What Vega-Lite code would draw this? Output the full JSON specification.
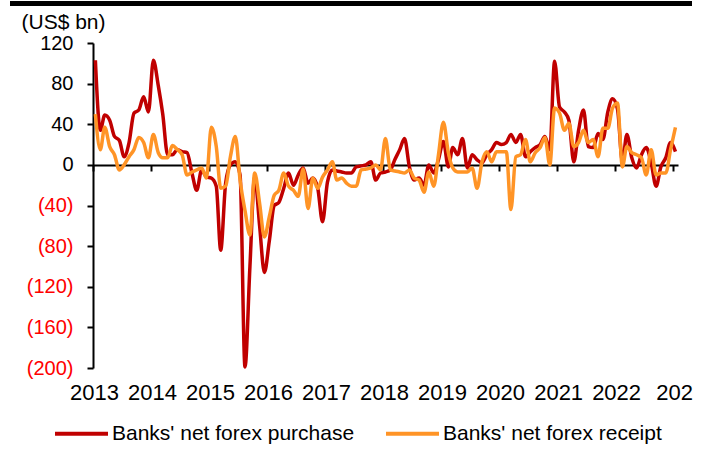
{
  "$schema": "https://vega.github.io/schema/vega-lite/v6.json",
  "padding": {"left": 7, "top": 0, "right": 0, "bottom": 0},
  "background": "white",
  "config": {"view": {"stroke": null}, "font": "Liberation Sans"},
  "spacing": 4,
  "resolve": {"scale": {"color": "independent"}, "legend": {"color": "independent"}},
  "vconcat": [
    {
      "width": 682,
      "height": 5,
      "view": {"fill": "black", "stroke": null},
      "data": {"values": [{}]},
      "mark": {"type": "point", "opacity": 0},
      "encoding": {}
    },
    {
      "spacing": 7,
      "resolve": {"scale": {"color": "independent"}, "legend": {"color": "independent"}},
      "hconcat": [
        {
          "width": 1,
          "height": 1,
          "data": {"values": [{}]},
          "mark": {"type": "point", "opacity": 0},
          "encoding": {}
        },
        {
          "width": 585,
          "height": 325,
          "data": {"values": [
            {"date": "2013-01-16", "purchase": 103, "receipt": 50},
            {"date": "2013-02-16", "purchase": 34, "receipt": 15},
            {"date": "2013-03-16", "purchase": 49, "receipt": 37},
            {"date": "2013-04-16", "purchase": 44, "receipt": 18},
            {"date": "2013-05-16", "purchase": 28, "receipt": 10},
            {"date": "2013-06-16", "purchase": 24, "receipt": -5},
            {"date": "2013-07-16", "purchase": 8, "receipt": 0},
            {"date": "2013-08-16", "purchase": 22, "receipt": 8},
            {"date": "2013-09-16", "purchase": 51, "receipt": 15},
            {"date": "2013-10-16", "purchase": 54, "receipt": 27},
            {"date": "2013-11-16", "purchase": 67, "receipt": 22},
            {"date": "2013-12-16", "purchase": 52, "receipt": 7},
            {"date": "2014-01-16", "purchase": 103, "receipt": 30},
            {"date": "2014-02-16", "purchase": 78, "receipt": 12},
            {"date": "2014-03-16", "purchase": 50, "receipt": 7},
            {"date": "2014-04-16", "purchase": 10, "receipt": 7},
            {"date": "2014-05-16", "purchase": 10, "receipt": 19},
            {"date": "2014-06-16", "purchase": 15, "receipt": 15},
            {"date": "2014-07-16", "purchase": 13, "receipt": 10},
            {"date": "2014-08-16", "purchase": 12, "receipt": -10},
            {"date": "2014-09-16", "purchase": -8, "receipt": -7},
            {"date": "2014-10-16", "purchase": -25, "receipt": -5},
            {"date": "2014-11-16", "purchase": -5, "receipt": -3},
            {"date": "2014-12-16", "purchase": -12, "receipt": -13},
            {"date": "2015-01-16", "purchase": -13, "receipt": 37},
            {"date": "2015-02-16", "purchase": -21, "receipt": 18},
            {"date": "2015-03-16", "purchase": -84, "receipt": -23},
            {"date": "2015-04-16", "purchase": -18, "receipt": -21},
            {"date": "2015-05-16", "purchase": 0, "receipt": 8},
            {"date": "2015-06-16", "purchase": 3, "receipt": 28},
            {"date": "2015-07-16", "purchase": -10, "receipt": -15},
            {"date": "2015-08-16", "purchase": -199, "receipt": -45},
            {"date": "2015-09-16", "purchase": -100, "receipt": -69},
            {"date": "2015-10-16", "purchase": -12, "receipt": -8},
            {"date": "2015-11-16", "purchase": -60, "receipt": -38},
            {"date": "2015-12-16", "purchase": -106, "receipt": -71},
            {"date": "2016-01-16", "purchase": -75, "receipt": -51},
            {"date": "2016-02-16", "purchase": -40, "receipt": -30},
            {"date": "2016-03-16", "purchase": -37, "receipt": -25},
            {"date": "2016-04-16", "purchase": -23, "receipt": -8},
            {"date": "2016-05-16", "purchase": -8, "receipt": -21},
            {"date": "2016-06-16", "purchase": -20, "receipt": -25},
            {"date": "2016-07-16", "purchase": -10, "receipt": -31},
            {"date": "2016-08-16", "purchase": -3, "receipt": -4},
            {"date": "2016-09-16", "purchase": -18, "receipt": -43},
            {"date": "2016-10-16", "purchase": -13, "receipt": -13},
            {"date": "2016-11-16", "purchase": -23, "receipt": -23},
            {"date": "2016-12-16", "purchase": -56, "receipt": -12},
            {"date": "2017-01-16", "purchase": -17, "receipt": -5},
            {"date": "2017-02-16", "purchase": -5, "receipt": 3},
            {"date": "2017-03-16", "purchase": -6, "receipt": -15},
            {"date": "2017-04-16", "purchase": -7, "receipt": -13},
            {"date": "2017-05-16", "purchase": -8, "receipt": -18},
            {"date": "2017-06-16", "purchase": -8, "receipt": -21},
            {"date": "2017-07-16", "purchase": -2, "receipt": -21},
            {"date": "2017-08-16", "purchase": -1, "receipt": -5},
            {"date": "2017-09-16", "purchase": 0, "receipt": -4},
            {"date": "2017-10-16", "purchase": 3, "receipt": -3},
            {"date": "2017-11-16", "purchase": -15, "receipt": 0},
            {"date": "2017-12-16", "purchase": -8, "receipt": -5},
            {"date": "2018-01-16", "purchase": -7, "receipt": 26},
            {"date": "2018-02-16", "purchase": -5, "receipt": -5},
            {"date": "2018-03-16", "purchase": 5, "receipt": -6},
            {"date": "2018-04-16", "purchase": 15, "receipt": -7},
            {"date": "2018-05-16", "purchase": 26, "receipt": -8},
            {"date": "2018-06-16", "purchase": -2, "receipt": -5},
            {"date": "2018-07-16", "purchase": -15, "receipt": -13},
            {"date": "2018-08-16", "purchase": -13, "receipt": -15},
            {"date": "2018-09-16", "purchase": -20, "receipt": -27},
            {"date": "2018-10-16", "purchase": 0, "receipt": -7},
            {"date": "2018-11-16", "purchase": -8, "receipt": -21},
            {"date": "2018-12-16", "purchase": 5, "receipt": 10},
            {"date": "2019-01-16", "purchase": 23, "receipt": 42},
            {"date": "2019-02-16", "purchase": -2, "receipt": 12},
            {"date": "2019-03-16", "purchase": 17, "receipt": -3},
            {"date": "2019-04-16", "purchase": 10, "receipt": -7},
            {"date": "2019-05-16", "purchase": 26, "receipt": -7},
            {"date": "2019-06-16", "purchase": -3, "receipt": -7},
            {"date": "2019-07-16", "purchase": 10, "receipt": -3},
            {"date": "2019-08-16", "purchase": 5, "receipt": -23},
            {"date": "2019-09-16", "purchase": 2, "receipt": 3},
            {"date": "2019-10-16", "purchase": 10, "receipt": 13},
            {"date": "2019-11-16", "purchase": 15, "receipt": 3},
            {"date": "2019-12-16", "purchase": 22, "receipt": 13},
            {"date": "2020-01-16", "purchase": 20, "receipt": 13},
            {"date": "2020-02-16", "purchase": 22, "receipt": 13},
            {"date": "2020-03-16", "purchase": 30, "receipt": -44},
            {"date": "2020-04-16", "purchase": 22, "receipt": 8},
            {"date": "2020-05-16", "purchase": 30, "receipt": 10},
            {"date": "2020-06-16", "purchase": 8, "receipt": 25},
            {"date": "2020-07-16", "purchase": 13, "receipt": 3},
            {"date": "2020-08-16", "purchase": 17, "receipt": 12},
            {"date": "2020-09-16", "purchase": 20, "receipt": 17},
            {"date": "2020-10-16", "purchase": 28, "receipt": 27},
            {"date": "2020-11-16", "purchase": 15, "receipt": 0},
            {"date": "2020-12-16", "purchase": 102, "receipt": 56},
            {"date": "2021-01-16", "purchase": 57, "receipt": 51},
            {"date": "2021-02-16", "purchase": 52, "receipt": 34},
            {"date": "2021-03-16", "purchase": 44, "receipt": 41},
            {"date": "2021-04-16", "purchase": 3, "receipt": 18},
            {"date": "2021-05-16", "purchase": 34, "receipt": 22},
            {"date": "2021-06-16", "purchase": 54, "receipt": 34},
            {"date": "2021-07-16", "purchase": 18, "receipt": 22},
            {"date": "2021-08-16", "purchase": 17, "receipt": 25},
            {"date": "2021-09-16", "purchase": 31, "receipt": 8},
            {"date": "2021-10-16", "purchase": 25, "receipt": 36},
            {"date": "2021-11-16", "purchase": 52, "receipt": 36},
            {"date": "2021-12-16", "purchase": 65, "receipt": 56},
            {"date": "2022-01-16", "purchase": 55, "receipt": 61},
            {"date": "2022-02-16", "purchase": 3, "receipt": -2},
            {"date": "2022-03-16", "purchase": 30, "receipt": 18},
            {"date": "2022-04-16", "purchase": 7, "receipt": 12},
            {"date": "2022-05-16", "purchase": -3, "receipt": 10},
            {"date": "2022-06-16", "purchase": 10, "receipt": 7},
            {"date": "2022-07-16", "purchase": 17, "receipt": -10},
            {"date": "2022-08-16", "purchase": 2, "receipt": 15},
            {"date": "2022-09-16", "purchase": -21, "receipt": -10},
            {"date": "2022-10-16", "purchase": -2, "receipt": -8},
            {"date": "2022-11-16", "purchase": 7, "receipt": -8},
            {"date": "2022-12-16", "purchase": 22, "receipt": 15},
            {"date": "2023-01-16", "purchase": 13, "receipt": 37}
          ]},
          "layer": [
            {
              "mark": {"type": "line", "interpolate": "monotone", "strokeWidth": 3.5, "strokeJoin": "round"},
              "encoding": {
                "x": {
                  "field": "date", "type": "temporal",
                  "scale": {"domain": ["2013-01-01", "2023-02-01"], "nice": false},
                  "axis": {
                    "title": null, "domain": false, "ticks": false, "grid": false,
                    "tickCount": {"interval": "year", "step": 1},
                    "format": "%Y",
                    "labelExpr": "datum.label == '2023' ? '202' : datum.label",
                    "labelFontSize": 22, "labelColor": "black", "labelPadding": 14, "labelOffset": 1,
                    "labelFlush": false, "labelOverlap": false, "labelBound": false
                  }
                },
                "y": {
                  "field": "purchase", "type": "quantitative",
                  "scale": {"domain": [-200, 120], "nice": false, "zero": false},
                  "axis": {
                    "title": "(US$ bn)", "titleAngle": 0, "titleAlign": "left", "titleBaseline": "alphabetic",
                    "titleX": -72, "titleY": -15, "titleFontSize": 21, "titleFontWeight": "normal", "titleColor": "black",
                    "values": [-200, -160, -120, -80, -40, 0, 40, 80, 120],
                    "labelExpr": "datum.value < 0 ? '(' + format(-datum.value, 'd') + ')' : format(datum.value, 'd')",
                    "labelColor": {"condition": {"test": "datum.value < 0", "value": "#FF0000"}, "value": "black"},
                    "labelFontSize": 20, "labelPadding": 14, "tickSize": 6, "tickWidth": 2, "tickColor": "black",
                    "domainColor": "black", "domainWidth": 2, "grid": false, "labelFlush": false, "labelOverlap": false
                  }
                },
                "color": {
                  "datum": "Banks' net forex purchase",
                  "scale": {"domain": ["Banks' net forex purchase", "Banks' net forex receipt"], "range": ["#C00000", "#FF9426"]},
                  "legend": {
                    "title": null, "orient": "none", "legendX": -40, "legendY": 362, "direction": "horizontal",
                    "symbolType": "stroke", "symbolSize": 2809, "symbolStrokeWidth": 4,
                    "labelFontSize": 21, "labelColor": "black", "labelOffset": 2, "columnPadding": 23, "labelLimit": 0
                  }
                }
              }
            },
            {
              "mark": {"type": "line", "interpolate": "monotone", "strokeWidth": 3.5, "strokeJoin": "round"},
              "encoding": {
                "x": {
                  "field": "date", "type": "temporal",
                  "axis": {
                    "orient": "top",
                    "title": null, "labels": false, "grid": false,
                    "domain": true, "domainColor": "black", "domainWidth": 2,
                    "ticks": true, "tickColor": "black", "tickWidth": 2, "tickSize": -6,
                    "tickCount": {"interval": "year", "step": 1},
                    "offset": -122
                  }
                },
                "y": {
                  "field": "receipt", "type": "quantitative",
                  "axis": {
                    "title": "(US$ bn)", "titleAngle": 0, "titleAlign": "left", "titleBaseline": "alphabetic",
                    "titleX": -72, "titleY": -15, "titleFontSize": 21, "titleFontWeight": "normal", "titleColor": "black",
                    "values": [-200, -160, -120, -80, -40, 0, 40, 80, 120],
                    "labelExpr": "datum.value < 0 ? '(' + format(-datum.value, 'd') + ')' : format(datum.value, 'd')",
                    "labelColor": {"condition": {"test": "datum.value < 0", "value": "#FF0000"}, "value": "black"},
                    "labelFontSize": 20, "labelPadding": 14, "tickSize": 6, "tickWidth": 2, "tickColor": "black",
                    "domainColor": "black", "domainWidth": 2, "grid": false, "labelFlush": false, "labelOverlap": false
                  }
                },
                "color": {
                  "datum": "Banks' net forex receipt",
                  "legend": {
                    "title": null, "orient": "none", "legendX": -40, "legendY": 362, "direction": "horizontal",
                    "symbolType": "stroke", "symbolSize": 2809, "symbolStrokeWidth": 4,
                    "labelFontSize": 21, "labelColor": "black", "labelOffset": 2, "columnPadding": 23, "labelLimit": 0
                  }
                }
              }
            }
          ],
          "resolve": {"axis": {"x": "independent"}}
        }
      ]
    }
  ]
}
